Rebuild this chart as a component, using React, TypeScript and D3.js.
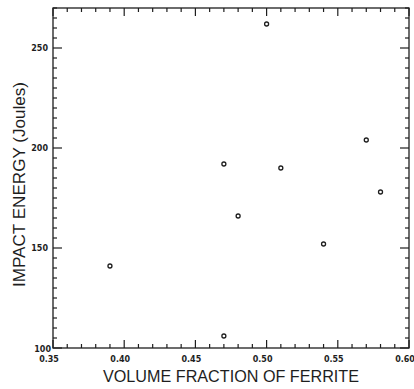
import React from "react";
import * as d3 from "d3";

const volumeFraction = [0.39, 0.47, 0.47, 0.48, 0.50, 0.51, 0.54, 0.57, 0.58];
const impactEnergy = [141, 192, 106, 166, 262, 190, 152, 204, 178];
const xMajorTicks = [0.35, 0.40, 0.45, 0.50, 0.55, 0.60];
const xTickLabels = ["0.35", "0.40", "0.45", "0.50", "0.55", "0.60"];
const yMajorTicks = [100, 150, 200, 250];
const yTickLabels = ["100", "150", "200", "250"];
const xTitle = "VOLUME FRACTION OF FERRITE";
const yTitle = "IMPACT ENERGY (Joules)";

export default function App() {
  const W = 414, H = 389;
  const L = 53, R = 409, T = 8, B = 348;
  const x = d3.scaleLinear().domain([0.35, 0.60]).range([L, R]);
  const y = d3.scaleLinear().domain([100, 270]).range([B, T]);
  const ink = "#1e1e1e";

  const xMinor = d3.range(0, 26).map((i) => 0.35 + i * 0.01);
  const yMinor = d3.range(0, 35).map((i) => 100 + i * 5);
  const isXMajor = (v: number) => xMajorTicks.some((m) => Math.abs(m - v) < 1e-6);
  const isYMajor = (v: number) => v % 50 === 0;

  return (
    <svg width={W} height={H} style={{ position: "absolute", left: 0, top: 0, background: "#fff" }}>
      <rect x={L} y={T} width={R - L} height={B - T} fill="none" stroke={ink} strokeWidth={1.3} />
      {xMinor.map((v, i) => {
        const len = isXMajor(v) ? 8 : 4;
        const px = x(v);
        return (
          <g key={"xt" + i} stroke={ink} strokeWidth={1.2}>
            <line x1={px} x2={px} y1={B} y2={B - len} />
            <line x1={px} x2={px} y1={T} y2={T + len} />
          </g>
        );
      })}
      {yMinor.map((v, i) => {
        const len = isYMajor(v) ? 9 : 4;
        const py = y(v);
        return (
          <g key={"yt" + i} stroke={ink} strokeWidth={1.2}>
            <line x1={L} x2={L + len} y1={py} y2={py} />
            <line x1={R} x2={R - len} y1={py} y2={py} />
          </g>
        );
      })}
      {xMajorTicks.map((v, i) => (
        <text key={"xl" + i} x={x(v) - 4} y={362} textAnchor="middle" fontFamily="DejaVu Sans" fontWeight="bold" fontSize={8} fill={ink}>
          {xTickLabels[i]}
        </text>
      ))}
      {yMajorTicks.map((v, i) => (
        <text key={"yl" + i} x={v === 100 ? 51 : 48} y={y(v) + (v === 100 ? 4 : 3)} textAnchor="end" fontFamily="DejaVu Sans" fontWeight="bold" fontSize={8} fill={ink}>
          {yTickLabels[i]}
        </text>
      ))}
      {volumeFraction.map((v, i) => (
        <circle key={"p" + i} cx={x(v)} cy={y(impactEnergy[i])} r={2} fill="#fff" stroke={ink} strokeWidth={1.3} />
      ))}
      <text x={103} y={382} textLength={256} lengthAdjust="spacingAndGlyphs" fontFamily="Liberation Sans" fontSize={17} fill={ink}>
        {xTitle}
      </text>
      <text transform="translate(25,287) rotate(-90)" x={0} y={0} textLength={205} lengthAdjust="spacingAndGlyphs" fontFamily="Liberation Sans" fontSize={16.5} fill={ink}>
        {yTitle}
      </text>
    </svg>
  );
}
